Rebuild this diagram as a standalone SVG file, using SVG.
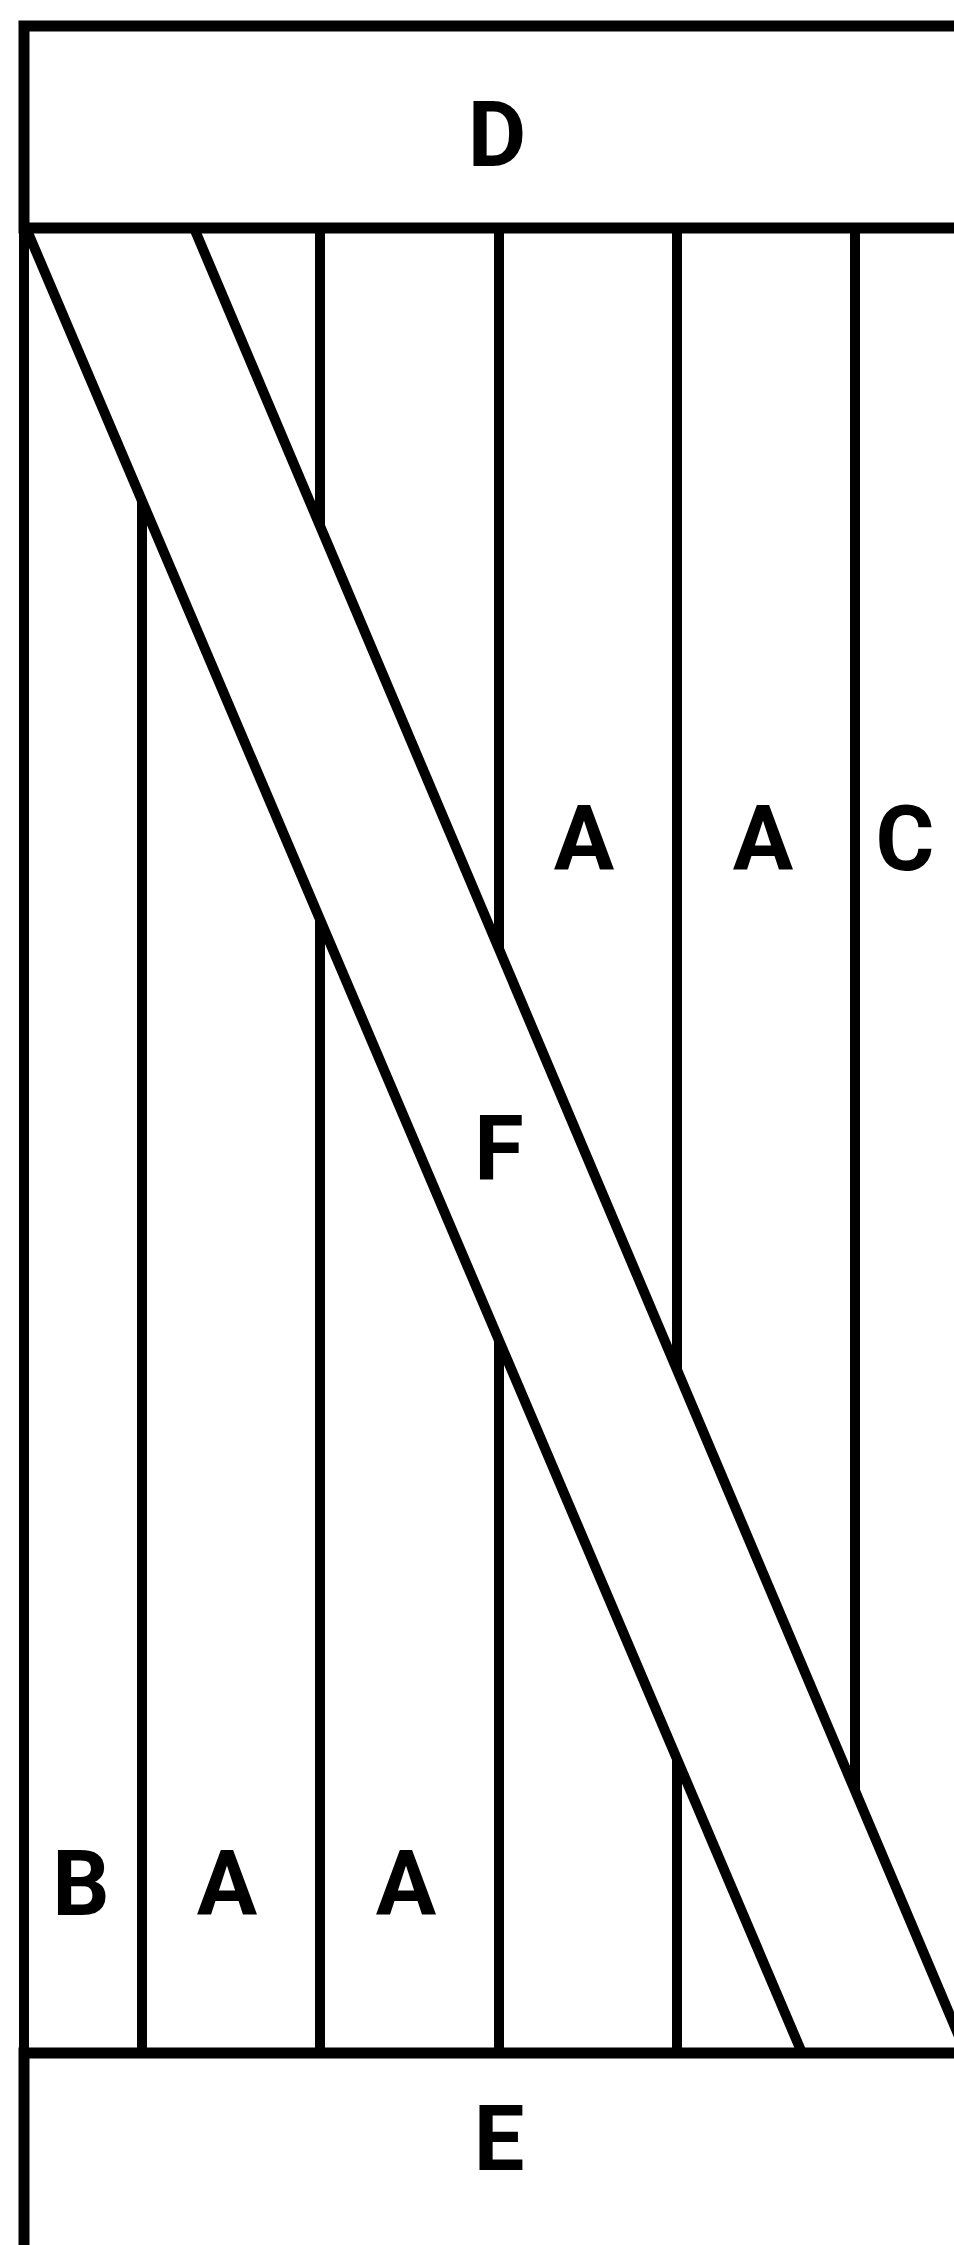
<svg xmlns="http://www.w3.org/2000/svg" width="954" height="2245" viewBox="0 0 954 2245">
<style>
.ln{stroke:#000;stroke-width:10;fill:none;stroke-linecap:butt}
.hl{stroke:#000;stroke-width:11;fill:none}
.lbl{font-family:Roboto,"Liberation Sans",sans-serif;font-weight:700;font-size:90px;fill:#000;text-anchor:middle}
</style>
<rect width="954" height="2245" fill="#fff"/>
<g id="columns">
  <line class="ln" x1="142" y1="228" x2="142" y2="2053"/>
  <line class="ln" x1="320" y1="228" x2="320" y2="2053"/>
  <line class="ln" x1="499" y1="228" x2="499" y2="2053"/>
  <line class="ln" x1="677" y1="228" x2="677" y2="2053"/>
  <line class="ln" x1="855" y1="228" x2="855" y2="2053"/>
</g>
<g id="F">
  <polygon points="27,228 194,228 966,2053 802,2053" fill="#fff"/>
  <line class="ln" x1="26" y1="228" x2="802" y2="2053"/>
  <line class="ln" x1="194" y1="228" x2="966" y2="2053"/>
  <text class="lbl" x="499" y="1180">F</text>
</g>
<g id="D">
  <rect class="hl" x="24" y="26" width="1000" height="202"/>
  <text class="lbl" x="497" y="166">D</text>
</g>
<g id="E">
  <rect class="hl" x="24" y="2053" width="1000" height="300"/>
  <text class="lbl" x="499" y="2170">E</text>
</g>
<g id="frame">
  <rect class="ln" x="24" y="26" width="1000" height="2400"/>
</g>
<g id="B"><text class="lbl" x="81" y="1915">B</text></g>
<g id="A1"><text class="lbl" x="227" y="1915">A</text></g>
<g id="A2"><text class="lbl" x="406" y="1915">A</text></g>
<g id="A3"><text class="lbl" x="584" y="870">A</text></g>
<g id="A4"><text class="lbl" x="763" y="870">A</text></g>
<g id="C"><text class="lbl" x="905" y="870">C</text></g>
<g id="connectors"></g>
</svg>
